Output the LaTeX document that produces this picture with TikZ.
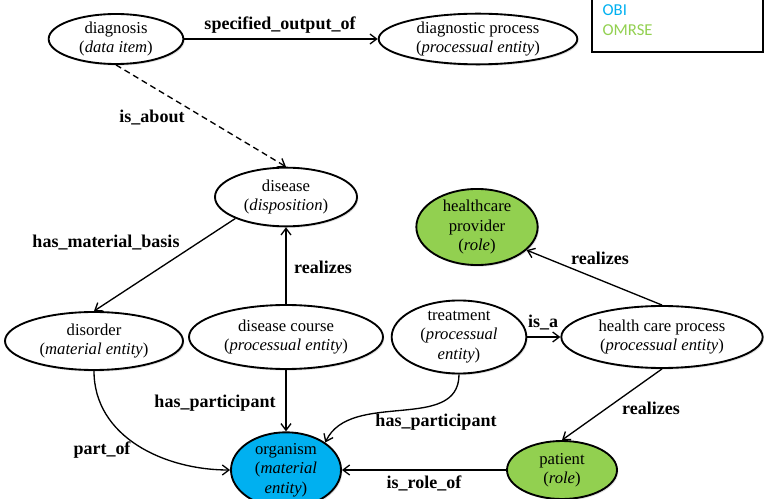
\documentclass[tikz,border=0pt]{standalone}
\usepackage{fontspec}
\setmainfont{Liberation Serif}
\newfontfamily\legendfont{Carlito}
\usetikzlibrary{shapes.geometric, arrows.meta, shadows}
\definecolor{obiblue}{HTML}{00B0F0}
\definecolor{omrsegreen}{HTML}{92D050}

\begin{document}
\begin{tikzpicture}[x=0.75pt, y=-0.75pt,
  entity/.style={ellipse, draw, line width=1.4pt, fill=white, align=center, inner sep=0pt,
    font=\fontsize{12.5}{14.5}\selectfont,
    drop shadow={opacity=0.25, shadow xshift=1pt, shadow yshift=-1.2pt}},
  lbl/.style={font=\fontsize{13.5}{16}\selectfont\bfseries},
  rel/.style={line width=1pt, -{Straight Barb[length=5pt, width=7.5pt]}}]
\useasboundingbox (0,0) rectangle (765,499);

% legend
\draw[line width=1.1pt] (592,-10) rectangle (763,52);
\node[anchor=west, text=obiblue, font=\legendfont\fontsize{12.5}{15}\selectfont] (obi) at (598,10) {OBI};
\node[anchor=west, text=omrsegreen, font=\legendfont\fontsize{12.5}{15}\selectfont] (omrse) at (598,30) {OMRSE};

% entities
\node[entity, minimum width=101pt, minimum height=37.5pt] (diag) at (116,39) {diagnosis\\(\textit{data item})};
\node[entity, minimum width=149pt, minimum height=38pt] (dproc) at (478,39) {diagnostic process\\(\textit{processual entity})};
\node[entity, minimum width=106.5pt, minimum height=44pt] (disease) at (286,197) {disease\\(\textit{disposition})};
\node[entity, fill=omrsegreen, minimum width=91pt, minimum height=44pt] (hprov) at (477,227) {healthcare\\provider\\(\textit{role})};
\node[entity, minimum width=133.5pt, minimum height=43.5pt] (disorder) at (94,341) {disorder\\(\textit{material entity})};
\node[entity, minimum width=145.5pt, minimum height=48pt] (dcourse) at (286,337) {disease course\\(\textit{processual entity})};
\node[entity, minimum width=101pt, minimum height=46.5pt] (treat) at (459,337) {treatment\\(\textit{processual}\\\textit{entity})};
\node[entity, minimum width=151pt, minimum height=46.5pt] (hcp) at (662,337) {health care process\\(\textit{processual entity})};
\node[entity, fill=obiblue, minimum width=82.5pt, minimum height=48pt] (organism) at (286,470) {organism\\(\textit{material}\\\textit{entity})};
\node[entity, fill=omrsegreen, minimum width=82.5pt, minimum height=43.5pt] (patient) at (562,470) {patient\\(\textit{role})};

% relations
\draw[rel] (diag) -- (dproc);
\draw[rel, dash pattern=on 4.5pt off 3pt] (diag.south) -- (disease.north);
\draw[rel] (disease.203) -- (disorder.north);
\draw[rel] (dcourse) -- (disease);
\draw[rel] (dcourse) -- (organism);
\draw[rel] (disorder.south) to[out=-90, in=180] (organism.west);
\draw[rel] (treat.south) to[out=-90, in=65] (organism.35);
\draw[rel] (treat) -- (hcp);
\draw[rel] (hcp.north) -- (hprov.-25);
\draw[rel] (hcp.south) -- (patient.north);
\draw[rel] (patient) -- (organism);

% labels
\node[lbl] (l1) at (280,25) {specified\_output\_of};
\node[lbl] (l2) at (152,118) {is\_about};
\node[lbl] (l3) at (106,243) {has\_material\_basis};
\node[lbl] (l4) at (323,267) {realizes};
\node[lbl] (l5) at (215,403) {has\_participant};
\node[lbl] (l6) at (102,450) {part\_of};
\node[lbl] (l7) at (436,422) {has\_participant};
\node[lbl] (l8) at (543,323) {is\_a};
\node[lbl] (l9) at (600,258) {realizes};
\node[lbl] (l10) at (651,408) {realizes};
\node[lbl] (l11) at (424,483) {is\_role\_of};
\end{tikzpicture}
\end{document}
